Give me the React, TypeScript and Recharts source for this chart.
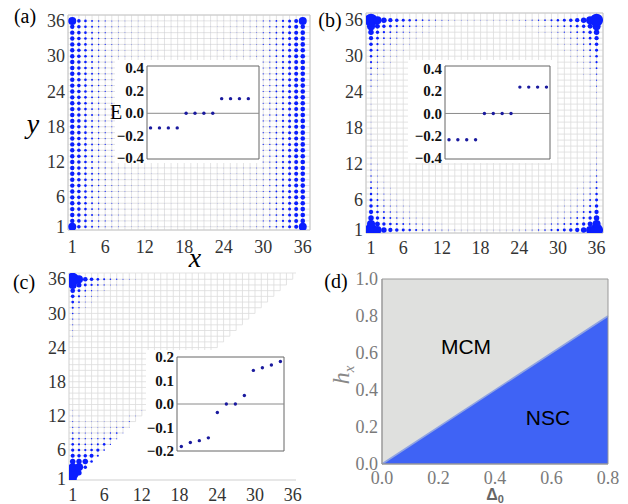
import React from 'react';
import {
  ScatterChart,
  Scatter,
  AreaChart,
  Area,
  XAxis,
  YAxis,
  CartesianGrid,
  ReferenceLine,
  ReferenceArea,
} from 'recharts';

// lattice sites along x and y
const sites = [
  1, 2, 3, 4, 5, 6, 7, 8, 9, 10, 11, 12, 13, 14, 15, 16, 17, 18,
  19, 20, 21, 22, 23, 24, 25, 26, 27, 28, 29, 30, 31, 32, 33, 34, 35, 36,
];
const siteLabels = [1, 6, 12, 18, 24, 30, 36];

// (a) dot radius per column, counted in from the left / right edge
const aLeft = [2.2, 1.8, 1.3, 0.95, 0.75, 0.6, 0.5, 0.42, 0.36, 0.3, 0.26, 0.22, 0.2, 0.18, 0.16, 0.15, 0.14, 0.13];
const aRight = [2.3, 2.0, 1.5, 1.1, 0.85, 0.68, 0.56, 0.46, 0.38, 0.32, 0.27, 0.23, 0.2, 0.18, 0.16, 0.15, 0.14, 0.13];
const aCornerR = 4;

// (b) decay away from each corner along the edges
const bProfile = [1, 0.62, 0.42, 0.33, 0.27, 0.23, 0.19, 0.16, 0.13, 0.11, 0.09, 0.08, 0.07, 0.06, 0.055, 0.05, 0.05, 0.05];
const bCornerR = 6.5;

// (c) the two corner states of the triangle
const cTopProfile = [1, 0.62, 0.36, 0.28, 0.21, 0.16, 0.12, 0.1, 0.08, 0.065, 0.05, 0.04];
const cBottomProfile = [1, 0.64, 0.42, 0.31, 0.25, 0.2, 0.16, 0.13, 0.1, 0.08, 0.06, 0.05];
const cCornerR = 6.5;

// insets: the 12 energies closest to zero
const levels = [1, 2, 3, 4, 5, 6, 7, 8, 9, 10, 11, 12];
const energyA = [-0.13, -0.13, -0.13, -0.13, 0, 0, 0, 0, 0.13, 0.13, 0.13, 0.13];
const energyB = [-0.235, -0.235, -0.235, -0.235, 0, 0, 0, 0, 0.235, 0.235, 0.235, 0.235];
const energyC = [-0.181, -0.164, -0.156, -0.144, -0.036, 0, 0, 0.036, 0.143, 0.154, 0.166, 0.181];
const eTicksWide = [-0.4, -0.2, 0, 0.2, 0.4];
const eTicksNarrow = [-0.2, -0.1, 0, 0.1, 0.2];

// (d) phase boundary h_x = Δ0
const delta0 = [0, 0.8];
const hxBoundary = [0, 0.8];
const deltaTicks = [0, 0.2, 0.4, 0.6, 0.8];
const hxTicks = [0, 0.2, 0.4, 0.6, 0.8, 1];

const edgeDist = (v: number) => Math.min(v - 1, 36 - v);

const pointsA = sites.flatMap((y) =>
  sites.map((x) => {
    const corner = (x === 1 || x === 36) && (y === 1 || y === 36);
    const r = corner ? aCornerR : x <= 18 ? aLeft[x - 1] : aRight[36 - x];
    return { x, y, r };
  })
);

const pointsB = sites
  .flatMap((y) =>
    sites.map((x) => ({
      x,
      y,
      r: bCornerR * bProfile[edgeDist(x)] * bProfile[edgeDist(y)],
    }))
  )
  .filter((p) => p.r >= 0.3);

const pointsC = sites
  .flatMap((y) =>
    sites
      .filter((x) => x <= y)
      .map((x) => {
        const top = cCornerR * (cTopProfile[x - 1] ?? 0) * (cTopProfile[36 - y] ?? 0);
        const bottom = cCornerR * (cBottomProfile[x - 1] ?? 0) * (cBottomProfile[Math.abs(y - x - 1)] ?? 0);
        return { x, y, r: Math.max(top, bottom) };
      })
  )
  .filter((p) => p.r >= 0.3);

const serif = '"Liberation Serif", serif';
const sans = '"Liberation Sans", sans-serif';

const siteLabel = (v: number) => (siteLabels.includes(v) ? String(v) : '');
const energyLabel = (v: number) => (v < 0 ? '\u2212' : '') + Math.abs(v).toFixed(1);
const phaseLabel = (v: number) => v.toFixed(1);

// tick text drawn at the spot recharts hands over
const makeTick = (format: (v: number) => string, side: 'x' | 'y', size: number, color: string, weight = 'normal') =>
  (p: any) => {
    const label = format(p.payload.value);
    if (!label) return <g />;
    return (
      <text
        x={p.x}
        y={p.y}
        dy={side === 'x' ? '0.71em' : '0.34em'}
        textAnchor={side === 'x' ? 'middle' : 'end'}
        style={{ fontFamily: serif, fontSize: size, fill: color, fontWeight: weight }}
      >
        {label}
      </text>
    );
  };

const siteXTick = makeTick(siteLabel, 'x', 18, '#333');
const siteYTick = makeTick(siteLabel, 'y', 18, '#333');
const energyTick = makeTick(energyLabel, 'y', 15, '#111', 'bold');
const phaseXTick = makeTick(phaseLabel, 'x', 18, '#7a7a7a');
const phaseYTick = makeTick(phaseLabel, 'y', 18, '#7a7a7a');

const Site = (p: any) =>
  p.cx == null ? null : <circle cx={p.cx} cy={p.cy} r={p.payload.r} fill={p.fill} />;
const Level = (p: any) =>
  p.cx == null ? null : <circle cx={p.cx} cy={p.cy} r={1.7} fill={p.fill} />;

function Note({ x, y, size, style, children }: any) {
  return (
    <div
      style={{
        position: 'absolute',
        left: x,
        top: y,
        transform: 'translate(-50%, -50%)',
        fontSize: size,
        lineHeight: 1,
        whiteSpace: 'nowrap',
        fontFamily: serif,
        ...style,
      }}
    >
      {children}
    </div>
  );
}

function LatticePanel({ left, top, width, height, margin, yWidth, xHeight, xDomain, yDomain, xTickMargin, points, triangle }: any) {
  return (
    <div style={{ position: 'absolute', left, top }}>
      <ScatterChart width={width} height={height} margin={margin}>
        {!triangle && <CartesianGrid stroke="#dcdcdc" strokeWidth={0.8} />}
        <XAxis
          type="number"
          dataKey="x"
          domain={xDomain}
          ticks={sites}
          interval={0}
          height={xHeight}
          tick={siteXTick}
          tickLine={false}
          tickSize={0}
          tickMargin={xTickMargin}
          axisLine={triangle ? { stroke: '#cfcfcf' } : false}
          allowDataOverflow
        />
        <YAxis
          type="number"
          dataKey="y"
          domain={yDomain}
          ticks={sites}
          interval={0}
          width={yWidth}
          tick={siteYTick}
          tickLine={false}
          tickSize={0}
          tickMargin={3}
          axisLine={triangle ? { stroke: '#cfcfcf' } : false}
          allowDataOverflow
        />
        {triangle &&
          sites.map((s) => (
            <ReferenceLine
              key={'v' + s}
              segment={[{ x: s, y: s }, { x: s, y: yDomain[1] }]}
              stroke="#dcdcdc"
              strokeWidth={0.8}
              ifOverflow="visible"
            />
          ))}
        {triangle &&
          sites.map((s) => (
            <ReferenceLine
              key={'h' + s}
              segment={[{ x: xDomain[0], y: s }, { x: s, y: s }]}
              stroke="#dcdcdc"
              strokeWidth={0.8}
              ifOverflow="visible"
            />
          ))}
        {triangle && (
          <ReferenceLine
            segment={[{ x: xDomain[0], y: yDomain[1] }, { x: xDomain[1], y: yDomain[1] }]}
            stroke="#dcdcdc"
            strokeWidth={0.8}
            ifOverflow="visible"
          />
        )}
        {!triangle && (
          <ReferenceArea
            x1={xDomain[0]}
            x2={xDomain[1]}
            y1={yDomain[0]}
            y2={yDomain[1]}
            fill="none"
            stroke="#c8c8c8"
            ifOverflow="visible"
          />
        )}
        <Scatter data={points} fill="#0a1eff" shape={Site} isAnimationActive={false} />
      </ScatterChart>
    </div>
  );
}

// white patch of the given size, chart a little taller so the lowest tick label has room
function EnergyInset({ left, top, width, height, margin, yWidth, xDomain, yDomain, ticks, energies }: any) {
  const data = levels.map((n, i) => ({ n, e: energies[i] }));
  const extra = 8;
  return (
    <>
      <div style={{ position: 'absolute', left, top, width, height, background: '#fff' }} />
      <div style={{ position: 'absolute', left, top }}>
        <ScatterChart width={width} height={height + extra} margin={{ ...margin, bottom: margin.bottom + extra }}>
          <XAxis type="number" dataKey="n" domain={xDomain} hide allowDataOverflow />
          <YAxis
            type="number"
            dataKey="e"
            domain={yDomain}
            ticks={ticks}
            interval={0}
            width={yWidth}
            tick={energyTick}
            tickLine={false}
            tickSize={0}
            tickMargin={3}
            axisLine={false}
            allowDataOverflow
          />
          <ReferenceLine y={0} stroke="#8a8a8a" />
          <ReferenceArea
            x1={xDomain[0]}
            x2={xDomain[1]}
            y1={yDomain[0]}
            y2={yDomain[1]}
            fill="none"
            stroke="#666"
            ifOverflow="visible"
          />
          <Scatter data={data} fill="#1a1a9e" shape={Level} isAnimationActive={false} />
        </ScatterChart>
      </div>
    </>
  );
}

export default function App() {
  const phaseData = delta0.map((d, i) => ({ d, h: hxBoundary[i] }));
  return (
    <div style={{ position: 'absolute', left: 0, top: 0, width: 628, height: 504, background: '#fff', overflow: 'hidden' }}>
      <LatticePanel
        left={0}
        top={0}
        width={320}
        height={260}
        margin={{ top: 15, right: 10, left: 0, bottom: 0 }}
        yWidth={68}
        xHeight={30}
        xDomain={[0.35, 37.1]}
        yDomain={[0.45, 37]}
        xTickMargin={10}
        points={pointsA}
      />
      <LatticePanel
        left={310}
        top={0}
        width={318}
        height={260}
        margin={{ top: 13, right: 25, left: 0, bottom: 0 }}
        yWidth={56}
        xHeight={27}
        xDomain={[0.22, 37]}
        yDomain={[0.5, 37.2]}
        xTickMargin={8}
        points={pointsB}
      />
      <LatticePanel
        left={0}
        top={260}
        width={320}
        height={244}
        margin={{ top: 13, right: 24, left: 0, bottom: 0 }}
        yWidth={69}
        xHeight={24}
        xDomain={[0.41, 36.52]}
        yDomain={[0.74, 37.1]}
        xTickMargin={8}
        points={pointsC}
        triangle
      />

      <div style={{ position: 'absolute', left: 310, top: 250 }}>
        <AreaChart width={318} height={254} data={phaseData} margin={{ top: 29, right: 20, left: 0, bottom: 0 }}>
          <CartesianGrid horizontal={false} vertical={false} fill="#dfe0de" />
          <XAxis
            type="number"
            dataKey="d"
            domain={[0, 0.8]}
            ticks={deltaTicks}
            interval={0}
            height={40}
            tick={phaseXTick}
            tickLine={false}
            tickSize={0}
            tickMargin={7}
            axisLine={{ stroke: '#999' }}
          />
          <YAxis
            type="number"
            domain={[0, 1]}
            ticks={hxTicks}
            interval={0}
            width={72}
            tick={phaseYTick}
            tickLine={false}
            tickSize={0}
            tickMargin={4}
            axisLine={{ stroke: '#999' }}
          />
          <Area
            type="linear"
            dataKey="h"
            fill="#3f63f5"
            fillOpacity={1}
            stroke="#8fa3e3"
            strokeWidth={1.5}
            isAnimationActive={false}
          />
          <ReferenceArea x1={0} x2={0.8} y1={0} y2={1} fill="none" stroke="#999" ifOverflow="visible" />
        </AreaChart>
      </div>

      <EnergyInset
        left={115}
        top={60}
        width={147}
        height={103}
        margin={{ top: 6, right: 3, left: 0, bottom: 4 }}
        yWidth={32}
        xDomain={[0.6, 13.2]}
        yDomain={[-0.406, 0.42]}
        ticks={eTicksWide}
        energies={energyA}
      />
      <EnergyInset
        left={408}
        top={60}
        width={149}
        height={103}
        margin={{ top: 6, right: 7, left: 0, bottom: 4 }}
        yWidth={37}
        xDomain={[0.55, 12.4]}
        yDomain={[-0.406, 0.423]}
        ticks={eTicksWide}
        energies={energyB}
      />
      <EnergyInset
        left={146}
        top={350}
        width={144}
        height={107}
        margin={{ top: 7, right: 6, left: 0, bottom: 6 }}
        yWidth={31}
        xDomain={[0.52, 12.4]}
        yDomain={[-0.2, 0.2]}
        ticks={eTicksNarrow}
        energies={energyC}
      />

      <Note x={25} y={16} size={20}>(a)</Note>
      <Note x={330} y={20} size={20}>(b)</Note>
      <Note x={24} y={282} size={20}>(c)</Note>
      <Note x={336} y={281} size={20}>(d)</Note>
      <Note x={33} y={124} size={28} style={{ fontStyle: 'italic' }}>y</Note>
      <Note x={195} y={258} size={28} style={{ fontStyle: 'italic' }}>x</Note>
      <Note x={116} y={112} size={20}>E</Note>
      <Note x={466} y={346} size={21} style={{ fontFamily: sans }}>MCM</Note>
      <Note x={548} y={417} size={21} style={{ fontFamily: sans }}>NSC</Note>
      <Note x={343} y={375} size={24} style={{ fontStyle: 'italic', color: '#888', transform: 'translate(-50%, -50%) rotate(-90deg)' }}>
        h<sub style={{ fontSize: 15 }}>x</sub>
      </Note>
      <Note x={495} y={496} size={16} style={{ fontWeight: 'bold', color: '#666', fontFamily: sans }}>
        Δ<sub style={{ fontSize: 11, verticalAlign: '-0.2em' }}>0</sub>
      </Note>
    </div>
  );
}
